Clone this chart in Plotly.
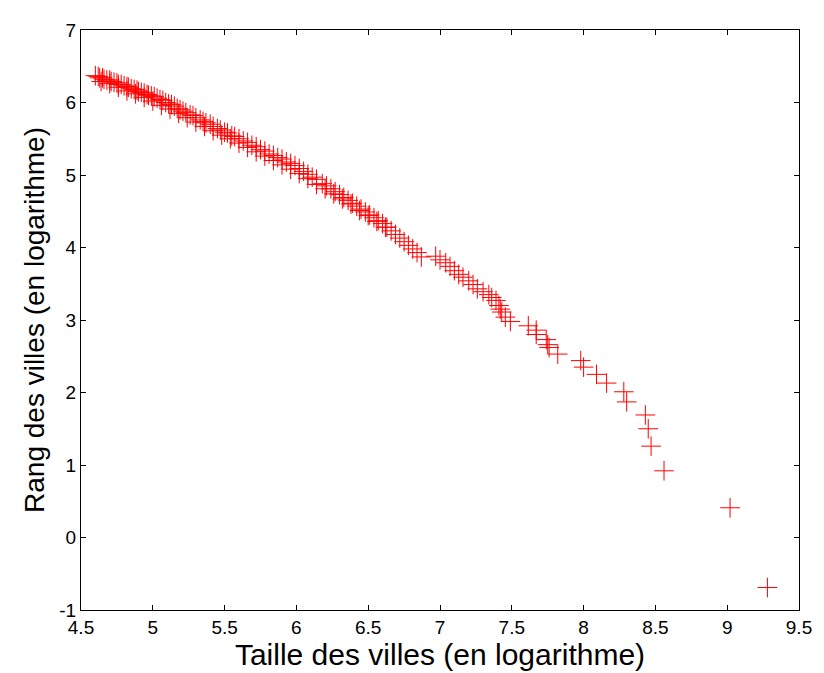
import plotly.graph_objects as go

# Band of dense points (log size, log rank)
band_x = [4.60, 4.62, 4.63, 4.65, 4.66, 4.68, 4.70, 4.71, 4.73, 4.75, 4.76, 4.78,
          4.80, 4.82, 4.83, 4.85, 4.87, 4.89, 4.90, 4.92, 4.94, 4.96, 4.97, 4.99,
          5.01, 5.03, 5.05, 5.07, 5.09, 5.11, 5.13, 5.15, 5.17, 5.19, 5.21, 5.23,
          5.26, 5.28, 5.30, 5.33, 5.35, 5.37, 5.40, 5.42, 5.45, 5.47, 5.50, 5.52,
          5.55, 5.57, 5.60, 5.63, 5.66, 5.69, 5.72, 5.75, 5.78, 5.81, 5.84, 5.87,
          5.90, 5.93, 5.96, 5.99,
          6.02, 6.05, 6.08, 6.11, 6.14, 6.18, 6.21, 6.24, 6.27, 6.30, 6.33, 6.36,
          6.39, 6.42, 6.45, 6.48, 6.51, 6.54, 6.57, 6.60, 6.63, 6.66, 6.69, 6.72,
          6.75, 6.78, 6.81, 6.84, 6.87]
band_y = [6.37, 6.36, 6.34, 6.34, 6.32, 6.31, 6.31, 6.29, 6.28, 6.27, 6.25, 6.25,
          6.23, 6.22, 6.21, 6.19, 6.18, 6.17, 6.15, 6.14, 6.13, 6.11, 6.10, 6.09,
          6.08, 6.06, 6.04, 6.03, 6.00, 5.98, 5.97, 5.95, 5.92, 5.90, 5.88, 5.86,
          5.83, 5.82, 5.79, 5.76, 5.74, 5.72, 5.70, 5.67, 5.64, 5.62, 5.59, 5.58,
          5.54, 5.53, 5.50, 5.47, 5.45, 5.41, 5.39, 5.35, 5.33, 5.29, 5.27, 5.24,
          5.22, 5.18, 5.16, 5.13,
          5.09, 5.05, 5.01, 4.97, 4.94, 4.88, 4.85, 4.81, 4.77, 4.73, 4.69, 4.65,
          4.61, 4.57, 4.53, 4.49, 4.45, 4.41, 4.37, 4.33, 4.28, 4.23, 4.18, 4.13,
          4.08, 4.03, 3.98, 3.93, 3.87]

# Points along the lower edge of the dense band
edge_x = [4.64, 4.70, 4.76, 4.82, 4.88, 4.94, 5.00, 5.06, 5.12, 5.18, 5.24, 5.30,
          5.36, 5.42, 5.48, 5.54, 5.60, 5.66, 5.72, 5.78, 5.84, 5.90, 5.96, 6.02,
          6.08, 6.14, 6.20, 6.26, 6.32, 6.38, 6.44, 6.50, 6.56, 6.62]
edge_y = [6.29, 6.26, 6.21, 6.16, 6.12, 6.07, 6.02, 5.96, 5.91, 5.85, 5.79, 5.73,
          5.67, 5.61, 5.55, 5.50, 5.44, 5.38, 5.32, 5.26, 5.20, 5.14, 5.08, 5.02,
          4.95, 4.87, 4.81, 4.74, 4.67, 4.60, 4.51, 4.44, 4.36, 4.28]

# Sparser tail points read one by one
tail_x = [6.97, 7.00, 7.04, 7.07, 7.10, 7.13, 7.16, 7.20, 7.23, 7.26, 7.30, 7.34,
          7.36, 7.39, 7.41, 7.42, 7.43, 7.455, 7.49, 7.615, 7.67, 7.67, 7.74, 7.75,
          7.76, 7.82, 7.98, 8.00, 8.09, 8.16, 8.28, 8.30, 8.43, 8.45, 8.47, 8.56,
          9.02, 9.28]
tail_y = [3.88, 3.83, 3.79, 3.74, 3.68, 3.63, 3.59, 3.54, 3.49, 3.43, 3.39, 3.35,
          3.31, 3.27, 3.20, 3.15, 3.11, 3.04, 2.98, 2.92, 2.86, 2.80, 2.73, 2.66,
          2.62, 2.53, 2.44, 2.35, 2.25, 2.13, 2.01, 1.87, 1.69, 1.50, 1.26, 0.92,
          0.41, -0.69]

x_ticks = [4.5, 5, 5.5, 6, 6.5, 7, 7.5, 8, 8.5, 9, 9.5]
x_tick_labels = ["4.5", "5", "5.5", "6", "6.5", "7", "7.5", "8", "8.5", "9", "9.5"]
y_ticks = [-1, 0, 1, 2, 3, 4, 5, 6, 7]
y_tick_labels = ["-1", "0", "1", "2", "3", "4", "5", "6", "7"]

FONT = "Liberation Sans, Arial"

fig = go.Figure()
fig.add_trace(go.Scatter(
    x=band_x + edge_x + tail_x, y=band_y + edge_y + tail_y, mode="markers",
    marker=dict(symbol="cross-thin", size=14, color="red",
                line=dict(color="red", width=1)),
    showlegend=False))

axis_common = dict(showgrid=False, zeroline=False, showline=True, linecolor="black",
                   linewidth=1, mirror="ticks", ticks="inside", ticklen=5,
                   tickcolor="black", tickfont=dict(family=FONT, size=19, color="black"))

fig.update_xaxes(range=[4.5, 9.5], tickvals=x_ticks, ticktext=x_tick_labels,
                 title=dict(text="Taille des villes (en logarithme)",
                            font=dict(family=FONT, size=30, color="black"),
                            standoff=2),
                 **axis_common)
fig.update_yaxes(range=[-1, 7], tickvals=y_ticks, ticktext=y_tick_labels,
                 title=dict(text="Rang des villes (en logarithme)",
                            font=dict(family=FONT, size=28, color="black"),
                            standoff=6),
                 **axis_common)

fig.update_layout(width=816, height=665, plot_bgcolor="white", paper_bgcolor="white",
                  margin=dict(l=73, r=17, t=12, b=63))
fig.write_html("out.html")
